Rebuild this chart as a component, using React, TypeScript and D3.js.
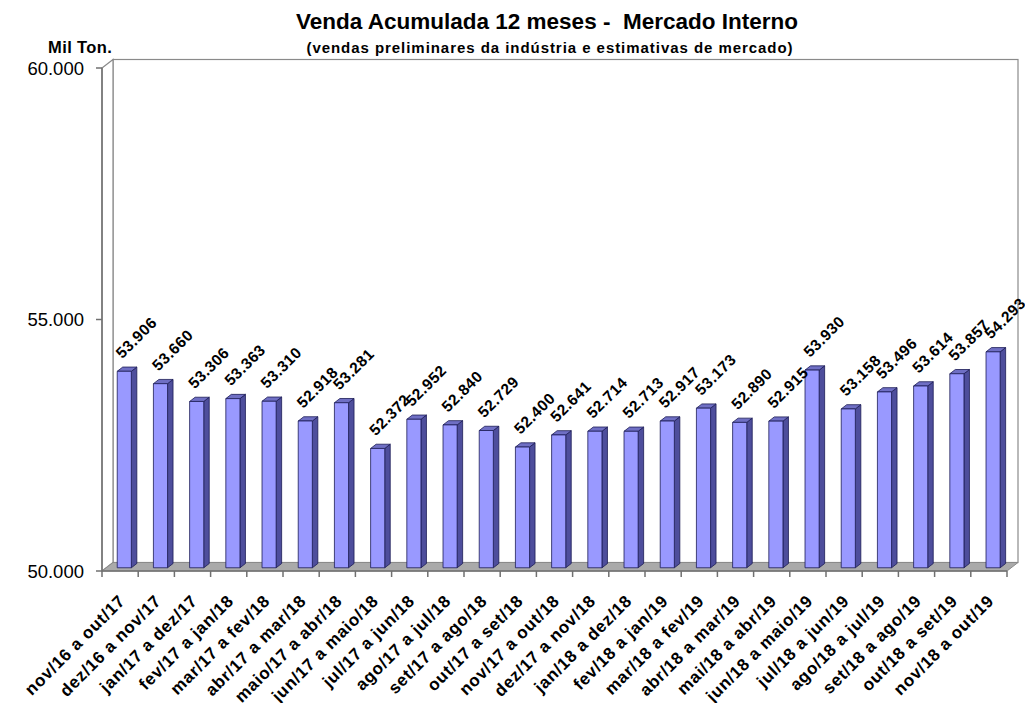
import * as d3 from 'd3';

const categories = [
  'nov/16 a out/17', 'dez/16 a nov/17', 'jan/17 a dez/17', 'fev/17 a jan/18', 'mar/17 a fev/18',
  'abr/17 a mar/18', 'maio/17 a abr/18', 'jun/17 a maio/18', 'jul/17 a jun/18', 'ago/17 a jul/18',
  'set/17 a ago/18', 'out/17 a set/18', 'nov/17 a out/18', 'dez/17 a nov/18', 'jan/18 a dez/18',
  'fev/18 a jan/19', 'mar/18 a fev/19', 'abr/18 a mar/19', 'mai/18 a abr/19', 'jun/18 a maio/19',
  'jul/18 a jun/19', 'ago/18 a jul/19', 'set/18 a ago/19', 'out/18 a set/19', 'nov/18 a out/19',
];

const values = [
  53906, 53660, 53306, 53363, 53310, 52918, 53281, 52372, 52952, 52840,
  52729, 52400, 52641, 52714, 52713, 52917, 53173, 52890, 52915, 53930,
  53158, 53496, 53614, 53857, 54293,
];

const yTicks = [50000, 55000, 60000];

const title = 'Venda Acumulada 12 meses -  Mercado Interno';
const subtitle = '(vendas preliminares da indústria e estimativas de mercado)';
const unitLabel = 'Mil Ton.';

const br = d3.formatLocale({ decimal: ',', thousands: '.', grouping: [3], currency: ['R$', ''] });
const fmt = br.format(',d');

const W = 1025;
const H = 703;
const left = 102;
const right = 1007;
const top = 68;
const bottom = 571;
// depth offset of the back wall
const DX = 11;
const DY = 8.5;

export default function App() {
  const x = d3.scaleBand<string>().domain(categories).range([left, right]);
  const y = d3.scaleLinear().domain([50000, 60000]).range([bottom, top]);

  const bw = x.bandwidth();
  const barW = bw * 0.39;
  const t1 = 0.38;
  const d = 0.5;

  const font = 'Arial, "Liberation Sans", sans-serif';
  const grid = '#8a8a8a';

  return (
    <svg width={W} height={H} style={{ position: 'absolute', left: 0, top: 0, background: '#fff' }}>
      {/* titles */}
      <text x={547} y={29} textAnchor="middle" fontFamily={font} fontWeight="bold" fontSize={22.5}
        style={{ whiteSpace: 'pre' }}>{title}</text>
      <text x={550} y={53} textAnchor="middle" fontFamily={font} fontWeight="bold" fontSize={15}
        letterSpacing={0.95}>{subtitle}</text>
      <text x={48} y={53} fontFamily={font} fontWeight="bold" fontSize={16.5} letterSpacing={0.4}>{unitLabel}</text>

      {/* walls and floor */}
      <rect x={left + DX} y={top - DY} width={right - left} height={bottom - top} fill="#fff" stroke={grid} strokeWidth={1.2} />
      <polygon points={`${left},${top} ${left + DX},${top - DY} ${left + DX},${bottom - DY} ${left},${bottom}`}
        fill="#fff" stroke={grid} strokeWidth={1.2} />
      <polygon points={`${left},${bottom} ${right},${bottom} ${right + DX},${bottom - DY} ${left + DX},${bottom - DY}`}
        fill="#aaaaaa" stroke={grid} strokeWidth={1} />

      {/* y axis */}
      <line x1={left} x2={left} y1={top} y2={bottom} stroke="#707070" strokeWidth={1.5} />
      {yTicks.map(t => (
        <g key={t}>
          <line x1={left - 6} x2={left} y1={y(t)} y2={y(t)} stroke="#707070" strokeWidth={1.5} />
          <text x={84} y={y(t) + 6.5} textAnchor="end" fontFamily={font} fontSize={18.5}>{fmt(t)}</text>
        </g>
      ))}

      {/* x axis */}
      <line x1={left} x2={right} y1={bottom} y2={bottom} stroke="#707070" strokeWidth={1.5} />
      {d3.range(categories.length + 1).map(i => {
        const xx = left + i * bw;
        return <line key={i} x1={xx} x2={xx} y1={bottom} y2={bottom + 6} stroke="#707070" strokeWidth={1.5} />;
      })}

      {/* bars */}
      {categories.map((c, i) => {
        const v = values[i];
        const xf = (x(c) ?? 0) + (bw - barW) / 2 + t1 * DX;
        const y0 = y(50000) - t1 * DY;
        const y1 = y(v) - t1 * DY;
        const ox = d * DX;
        const oy = d * DY;
        return (
          <g key={c} stroke="#1c1c55" strokeWidth={0.8} strokeLinejoin="round">
            <polygon points={`${xf + barW},${y1} ${xf + barW + ox},${y1 - oy} ${xf + barW + ox},${y0 - oy} ${xf + barW},${y0}`}
              fill="#4e4e9c" />
            <polygon points={`${xf},${y1} ${xf + ox},${y1 - oy} ${xf + barW + ox},${y1 - oy} ${xf + barW},${y1}`}
              fill="#6f6fc4" />
            <rect x={xf} y={y1} width={barW} height={y0 - y1} fill="#9999ff" />
          </g>
        );
      })}

      {/* value labels */}
      {categories.map((c, i) => {
        const xf = (x(c) ?? 0) + (bw - barW) / 2 + t1 * DX;
        const y1 = y(values[i]) - t1 * DY;
        const lx = xf + barW / 2 - 2;
        const ly = y1 - 12;
        return (
          <text key={c} transform={`translate(${lx},${ly}) rotate(-45)`} fontFamily={font} fontWeight="bold"
            fontSize={15.5} letterSpacing={0.5}>{fmt(values[i])}</text>
        );
      })}

      {/* category labels */}
      {categories.map(c => {
        const cx = (x(c) ?? 0) + bw / 2;
        return (
          <text key={c} transform={`translate(${cx + 6},${602}) rotate(-45)`} textAnchor="end" fontFamily={font}
            fontWeight="bold" fontSize={17} letterSpacing={0.7}>{c}</text>
        );
      })}
    </svg>
  );
}
